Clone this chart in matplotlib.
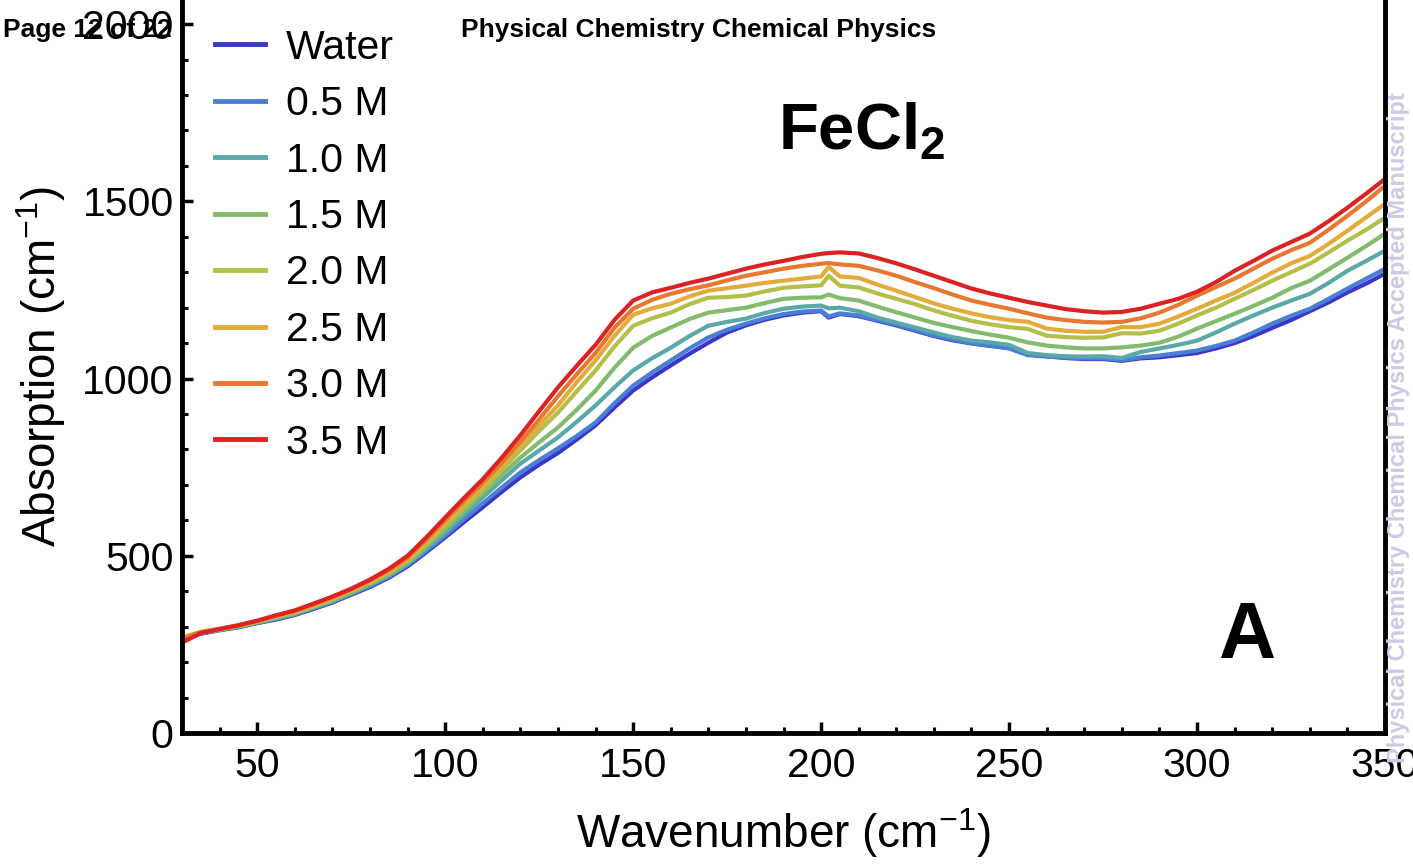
# FeCl2 absorption spectra, recreated with matplotlib
import numpy as np
import matplotlib
matplotlib.use('Agg')
import matplotlib.pyplot as plt
from matplotlib.ticker import MultipleLocator

plt.rcParams['font.family'] = ['Liberation Sans', 'DejaVu Sans']
plt.rcParams['mathtext.fontset'] = 'custom'
plt.rcParams['mathtext.rm'] = 'Liberation Sans'
plt.rcParams['mathtext.bf'] = 'Liberation Sans:bold'
plt.rcParams['mathtext.default'] = 'rm'

# wavenumber (cm-1)
wavenumber = [30, 35, 40, 45, 50, 55, 60, 65, 70, 75, 80,
              85, 90, 95, 100, 105, 110, 115, 120, 125, 130, 135,
              140, 145, 150, 155, 160, 165, 170, 175, 180, 185, 190,
              195, 200, 202, 205, 210, 215, 220, 225, 230, 235, 240,
              245, 250, 255, 260, 265, 270, 275, 280, 285, 290, 295,
              300, 305, 310, 315, 320, 325, 330, 335, 340, 345, 350]

# absorption (cm-1)
water = [262, 280, 290, 298, 310, 320, 333, 350, 368, 390, 412,
         438, 470, 510, 552, 595, 637, 680, 721, 757, 790, 828,
         868, 918, 966, 1003, 1037, 1070, 1101, 1130, 1150, 1166, 1178,
         1186, 1190, 1172, 1182, 1176, 1163, 1150, 1135, 1120, 1108, 1099,
         1092, 1086, 1068, 1063, 1058, 1055, 1055, 1050, 1057, 1060, 1066,
         1072, 1085, 1100, 1120, 1143, 1165, 1190, 1215, 1243, 1268, 1296]
m05 = [265, 281, 291, 299, 311, 322, 335, 352, 370, 392, 415,
       441, 474, 514, 557, 603, 648, 692, 735, 770, 803, 838,
       876, 930, 980, 1017, 1051, 1085, 1116, 1138, 1155, 1170, 1182,
       1189, 1192, 1175, 1184, 1178, 1165, 1152, 1137, 1122, 1110, 1100,
       1093, 1085, 1066, 1062, 1059, 1057, 1057, 1052, 1060, 1065, 1072,
       1079, 1092, 1107, 1130, 1155, 1177, 1197, 1225, 1254, 1282, 1310]
m10 = [266, 282, 291, 300, 312, 323, 336, 354, 372, 394, 418,
       444, 477, 520, 565, 615, 665, 712, 760, 797, 834, 878,
       924, 975, 1023, 1057, 1087, 1120, 1149, 1160, 1169, 1185, 1197,
       1203, 1206, 1198, 1200, 1190, 1172, 1158, 1144, 1130, 1117, 1107,
       1102, 1095, 1072, 1066, 1063, 1062, 1063, 1058, 1075, 1085, 1095,
       1107, 1130, 1155, 1178, 1200, 1220, 1239, 1270, 1304, 1332, 1361]
m15 = [267, 283, 292, 301, 313, 325, 338, 356, 375, 397, 421,
       448, 481, 526, 575, 626, 676, 727, 777, 820, 862, 912,
       966, 1030, 1087, 1120, 1144, 1168, 1186, 1193, 1200, 1213, 1225,
       1228, 1229, 1237, 1227, 1220, 1203, 1187, 1172, 1157, 1145, 1134,
       1124, 1115, 1102, 1093, 1088, 1085, 1085, 1088, 1093, 1101, 1118,
       1141, 1162, 1183, 1205, 1228, 1255, 1276, 1308, 1341, 1374, 1409]
m20 = [268, 284, 293, 302, 314, 327, 340, 358, 377, 400, 424,
       452, 486, 533, 584, 636, 687, 742, 797, 852, 904, 964,
       1023, 1090, 1149, 1170, 1186, 1210, 1228, 1230, 1234, 1246, 1256,
       1260, 1263, 1290, 1262, 1257, 1240, 1225, 1210, 1192, 1177, 1163,
       1153, 1145, 1140, 1121, 1117, 1115, 1116, 1128, 1127, 1135, 1155,
       1178, 1200, 1225, 1250, 1276, 1300, 1324, 1356, 1389, 1420, 1454]
m25 = [270, 285, 294, 303, 315, 329, 342, 360, 380, 402, 427,
       455, 490, 540, 592, 645, 696, 753, 811, 868, 924, 990,
       1051, 1120, 1180, 1198, 1211, 1232, 1248, 1255, 1262, 1270, 1276,
       1282, 1288, 1315, 1288, 1284, 1265, 1248, 1230, 1212, 1197, 1184,
       1173, 1165, 1160, 1141, 1135, 1132, 1132, 1145, 1145, 1155, 1175,
       1197, 1220, 1242, 1270, 1299, 1325, 1346, 1380, 1417, 1455, 1493]
m30 = [265, 285, 294, 304, 316, 331, 344, 363, 383, 405, 430,
       459, 495, 546, 600, 655, 706, 762, 822, 885, 950, 1012,
       1072, 1143, 1197, 1222, 1239, 1252, 1263, 1277, 1290, 1300, 1310,
       1318, 1324, 1326, 1322, 1318, 1305, 1290, 1272, 1255, 1237, 1220,
       1208, 1197, 1184, 1172, 1165, 1160, 1158, 1160, 1170, 1186, 1208,
       1234, 1258, 1282, 1310, 1338, 1362, 1383, 1420, 1459, 1500, 1544]
m35 = [255, 282, 293, 304, 317, 332, 346, 365, 385, 407, 433,
       463, 500, 552, 608, 663, 716, 776, 840, 908, 975, 1036,
       1095, 1165, 1220, 1243, 1256, 1270, 1282, 1296, 1310, 1322, 1332,
       1343, 1352, 1354, 1356, 1353, 1340, 1325, 1308, 1290, 1272, 1254,
       1240, 1228, 1216, 1206, 1196, 1190, 1186, 1188, 1197, 1211, 1225,
       1245, 1272, 1304, 1332, 1361, 1385, 1409, 1444, 1482, 1522, 1563]

labels = ['Water', '0.5 M', '1.0 M', '1.5 M', '2.0 M', '2.5 M', '3.0 M', '3.5 M']
colors = ['#3b36c9', '#4a7fd6', '#5aa9a8', '#82bb6c', '#b4bf4a', '#e2ab3c', '#e8782f', '#dc2222']
series = [water, m05, m10, m15, m20, m25, m30, m35]

fig = plt.figure(figsize=(14.13, 8.64), dpi=100)
ax = fig.add_axes([0.1288, 0.1516, 0.8514, 0.8484])

for s, lab, col in zip(series, labels, colors):
    ax.plot(wavenumber, s, color=col, lw=3, label=lab, solid_joinstyle='round')

ax.set_xlim(30, 350)
ax.set_ylim(0, 2068)
ax.xaxis.set_major_locator(MultipleLocator(50))
ax.xaxis.set_minor_locator(MultipleLocator(10))
ax.yaxis.set_major_locator(MultipleLocator(500))
ax.yaxis.set_minor_locator(MultipleLocator(100))

ax.spines['top'].set_visible(False)
for sp in ['left', 'bottom', 'right']:
    ax.spines[sp].set_linewidth(3.5)
ax.tick_params(which='major', direction='in', length=8, width=2.5, labelsize=29.5)
ax.tick_params(which='minor', direction='in', length=4.5, width=2.2)
ax.tick_params(axis='x', which='major', pad=10)
ax.tick_params(axis='y', which='major', pad=6)
ax.tick_params(axis='y', right=False)

ax.set_xlabel('Wavenumber (cm$^{-1}$)', fontsize=33, labelpad=15)
ax.set_ylabel('Absorption (cm$^{-1}$)', fontsize=33, labelpad=10)

leg = ax.legend(loc='upper left', bbox_to_anchor=(0.004, 1.0), frameon=False, fontsize=29.5,
                handlelength=1.2, handletextpad=0.52, labelspacing=0.45, borderaxespad=0.3)
for h in leg.get_lines():
    h.set_linewidth(3.5)

ax.text(0.565, 0.82, r'$\mathbf{FeCl_2}$', transform=ax.transAxes, fontsize=47,
        ha='center', va='center')
ax.text(0.885, 0.13, 'A', transform=ax.transAxes, fontsize=57, fontweight='bold',
        ha='center', va='center')

# page header and watermark
fig.text(0.002, 0.965, 'Page 12 of 22', fontsize=19, fontweight='bold', va='center')
fig.text(0.4947, 0.965, 'Physical Chemistry Chemical Physics', fontsize=19,
         fontweight='bold', ha='center', va='center')
fig.text(0.9895, 0.505, 'Physical Chemistry Chemical Physics Accepted Manuscript',
         fontsize=17, fontweight='bold', color='#cbcbe4', rotation=90,
         ha='center', va='center')

fig.savefig('out.png', dpi=100)
